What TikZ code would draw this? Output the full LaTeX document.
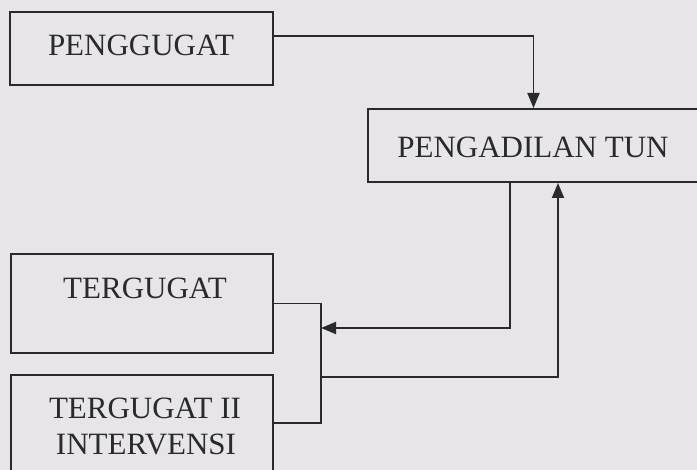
\documentclass[tikz,border=0pt]{standalone}
\usepackage{fontspec}
\setmainfont{Liberation Serif}
\usetikzlibrary{arrows.meta}
\definecolor{paper}{HTML}{E7E5EA}
\definecolor{ink}{HTML}{2A2A2A}
\begin{document}
\begin{tikzpicture}[x=1pt,y=-1pt,
  box/.style={draw=ink,line width=2pt,inner sep=0pt,anchor=center},
  lbl/.style={text=ink,font=\fontsize{31}{36}\selectfont,inner sep=0pt,anchor=center,align=center},
  conn/.style={draw=ink,line width=1.9pt},
  arr/.style={conn,-{Triangle[length=15pt,width=12pt]}}]
\fill[paper] (0,0) rectangle (697,470);
\useasboundingbox (0,0) rectangle (697,470);
\clip (0,0) rectangle (697,470);
% boxes
\node[box,minimum width=263pt,minimum height=73pt] (pg) at (141.5,48.5) {};
\node[box,minimum width=331pt,minimum height=73pt] (pt) at (533.5,145.5) {};
\node[box,minimum width=262pt,minimum height=99pt] (tg) at (142,303.5) {};
\node[box,minimum width=262pt,minimum height=146pt] (tg2) at (142,448) {};
% labels
\node[lbl] (tpg) at (141,45) {PENGGUGAT};
\node[lbl] (tpt) at (533,147) {PENGADILAN TUN};
\node[lbl] (ttg) at (145,288) {TERGUGAT};
\node[lbl] (ttg2a) at (145,408) {TERGUGAT II};
\node[lbl] (ttg2b) at (146,444) {INTERVENSI};
% connector points
\coordinate (jt) at (321,303.5);
\coordinate (jb) at (321,423);
\coordinate (ain) at (321,328);
\coordinate (aout) at (321,377);
% connectors
\draw[arr] ([yshift=12.5pt]pg.east) -| (pt.north);
\draw[conn] (tg.east) -- (jt) -- (jb) -- (jb -| tg2.east);
\draw[arr] ([xshift=-23.5pt]pt.south) |- (ain);
\draw[arr] (aout) -| ([xshift=24.5pt]pt.south);
\end{tikzpicture}
\end{document}
